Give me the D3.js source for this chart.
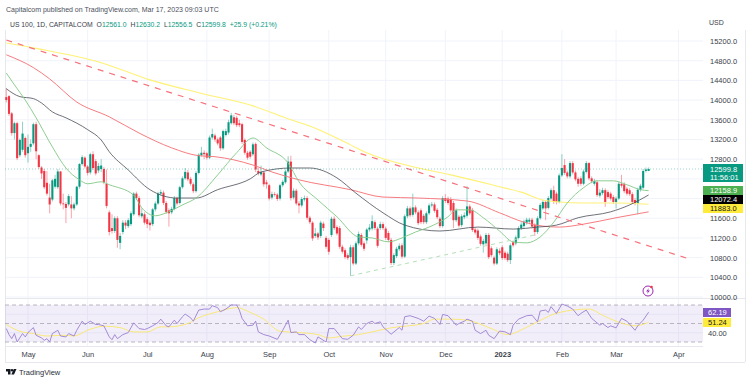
<!DOCTYPE html>
<html>
<head>
<meta charset="utf-8">
<script src="https://cdn.jsdelivr.net/npm/d3@7"></script>
<style>
  html, body { margin: 0; padding: 0; background: #fff; }
  svg { display: block; }
  text { font-family: "Liberation Sans", sans-serif; }
</style>
</head>
<body>
<div id="chart"></div>
<script>
// Daily candles, one value per trading day
const opens = [
  14060,14080,13730,13330,13530,12880,12990,13230,12920,13050,
  13120,13510,12880,12630,12560,12320,12020,11980,12240,12230,
  12550,11900,11890,11880,11880,11800,11880,12240,12700,12830,
  12650,12530,12900,12760,12570,12600,12600,12300,11720,11400,
  11340,11600,11100,11320,11510,11440,11480,11680,12100,12010,
  11640,11680,11580,11510,11480,11780,11900,12100,12120,11910,
  11760,11720,11790,12010,11910,12230,12410,12530,12400,12290,
  12150,12520,12880,12930,12920,12830,13240,13280,13200,13240,
  13020,13290,13340,13530,13650,13640,13530,13510,13190,12930,
  12950,12900,13110,12560,12490,12530,12330,12270,12020,12090,
  12080,12000,12270,12330,12550,12750,12020,12160,11900,11860,
  11980,12010,11610,11510,11240,11290,11240,11490,11200,11160,
  11260,11590,11420,11400,11020,10950,10850,10810,11010,10680,
  11090,11260,11090,11150,11370,11390,11520,11390,11400,11480,
  11390,11300,11160,10690,10830,10970,11050,10820,11640,11800,
  11670,11820,11720,11760,11650,11520,11700,11860,11880,11770,
  11590,11440,12010,12000,11990,11910,11560,11630,11460,11620,
  11650,11840,11770,11370,11350,11230,11070,11090,11260,10990,
  10800,10680,10940,11010,10900,10880,10750,11110,11090,11200,
  11400,11440,11510,11530,11570,11460,11320,11600,11800,11930,
  11810,12000,12170,12100,11930,12470,12680,12530,12450,12720,
  12530,12400,12410,12300,12540,12720,12410,12300,12330,12060,
  12110,12170,12130,12100,12030,11930,12000,12300,12290,12200,
  12170,12090,11970,11900,12180,12220,12560,12561];
const highs = [
  14240,14100,13760,13560,13560,13220,13560,13260,13300,13200,
  13540,13560,12900,12660,12600,12560,12300,12400,12480,12600,
  12560,12100,11930,12090,12050,11920,12260,12720,12880,12860,
  12680,12930,12960,12800,12720,12800,12640,12590,11760,11680,
  11640,11640,11300,11560,11560,11600,11740,12130,12140,12050,
  11800,11720,11620,11560,11810,11940,12140,12180,12160,11950,
  11800,11830,12050,12040,12260,12450,12620,12580,12440,12330,
  12560,12920,13050,12980,12950,13280,13420,13320,13240,13270,
  13400,13420,13600,13740,13700,13680,13600,13540,13220,12970,
  12980,13140,13140,12620,12670,12560,12380,12300,12140,12130,
  12110,12300,12380,12590,12860,12870,12210,12200,11950,12030,
  12060,12050,11650,11540,11400,11320,11550,11530,11240,11200,
  11630,11640,11460,11440,11060,10990,10890,11060,11050,11130,
  11330,11300,11130,11400,11480,11660,11560,11430,11530,11520,
  11430,11340,11200,10890,11020,11090,11090,11680,11850,11840,
  12100,11860,11760,11800,11690,11740,11900,11930,11920,11810,
  11630,12050,12090,12040,12030,11950,11800,11670,11680,11720,
  12250,11880,11810,11410,11390,11270,11180,11300,11300,11030,
  10840,11010,10990,11050,10940,10920,11090,11150,11250,11440,
  11520,11570,11610,11610,11610,11500,11640,11910,11970,11970,
  12050,12210,12260,12140,12510,12900,12800,12570,12760,12760,
  12570,12440,12450,12590,12760,12740,12450,12400,12370,12190,
  12220,12210,12170,12140,12070,12040,12340,12480,12330,12240,
  12210,12130,12010,12220,12300,12600,12630,12630.2];
const lows = [
  13950,13680,13280,13200,12780,12840,12950,12830,12730,12950,
  13080,12800,12600,12400,12190,12060,11700,11940,12200,12190,
  11860,11780,11500,11840,11600,11760,11850,12200,12670,12610,
  12470,12490,12580,12470,12520,12540,12290,11800,11250,11290,
  11300,11000,10970,11270,11380,11400,11440,11650,11970,11620,
  11600,11470,11400,11350,11440,11740,11870,12060,11870,11690,
  11430,11680,11760,11860,11880,12200,12380,12350,12260,12110,
  12120,12490,12850,12800,12790,12800,13200,13150,13080,12970,
  12990,13260,13300,13500,13490,13450,13450,13110,12890,12790,
  12810,12860,12540,12470,12450,12240,12200,11960,11980,12040,
  11950,11960,12230,12300,12520,11960,11980,11860,11700,11820,
  11940,11570,11480,11140,11200,11160,11200,11340,10980,10860,
  11220,11360,11250,10980,10880,10770,10750,10430,10640,10650,
  11050,11020,10930,11080,11330,11350,11360,11000,11360,11360,
  11160,11120,10650,10650,10790,10930,10780,10790,11600,11620,
  11630,11680,11460,11480,11480,11480,11660,11820,11710,11580,
  11400,11410,11910,11870,11720,11400,11520,11410,11420,11580,
  11610,11660,11320,11270,11160,11040,10900,11050,10770,10810,
  10640,10650,10850,10750,10750,10710,10670,11010,11050,11170,
  11360,11400,11470,11490,11390,11240,11280,11570,11770,11560,
  11780,11960,11890,11880,11900,12440,12480,12410,12410,12490,
  12350,12240,12260,12270,12510,12370,12310,12260,12030,12020,
  12070,11830,11990,11960,11890,11800,11970,12220,12110,12060,
  12050,11890,11860,11680,12140,12190,12530,12556.5];
const closes = [
  14000,13720,13330,13530,12820,13190,13320,12880,13050,13110,
  13510,12960,12640,12510,12230,12100,11880,12370,12400,12550,
  11900,11890,11810,12050,11800,11880,12240,12700,12840,12650,
  12520,12900,12620,12510,12660,12670,12330,11850,11320,11340,
  11600,11160,11240,11510,11450,11560,11700,12100,12010,11660,
  11700,11510,11480,11460,11780,11900,12100,12130,11910,11730,
  11700,11790,12010,11900,12230,12410,12540,12390,12300,12150,
  12520,12890,12930,12900,12830,13240,13310,13200,13120,13020,
  13370,13370,13550,13690,13530,13490,13490,13150,12930,12830,
  12850,13100,12590,12510,12540,12290,12290,12000,12090,12080,
  11990,12270,12340,12550,12750,12010,12160,11900,11860,11990,
  12010,11610,11520,11190,11290,11210,11510,11400,11020,10920,
  11590,11400,11290,11020,10920,10810,10790,11010,10680,11090,
  11280,11060,10980,11370,11410,11540,11400,11040,11480,11400,
  11200,11160,10690,10850,10980,11040,10820,11640,11800,11660,
  11820,11720,11500,11520,11520,11700,11860,11880,11750,11620,
  11440,12010,11950,11910,11760,11560,11760,11450,11640,11660,
  11840,11700,11360,11310,11200,11080,11140,11260,10810,10850,
  10680,10970,10890,10790,10790,10750,11050,11050,11210,11400,
  11470,11530,11570,11570,11430,11320,11600,11870,11930,11800,
  12010,12170,11930,11930,12470,12620,12520,12450,12720,12530,
  12390,12300,12300,12550,12720,12410,12350,12360,12070,12120,
  12170,11930,12030,12000,11930,12000,12300,12260,12150,12100,
  12090,11930,11900,12180,12260,12560,12590,12599.8];

// Moving averages: bar index and price read at the bends of each line
const ma20Index = [0,3,7,11,17,22,27,30,35,38,47,50,55,59,65,70,78,85,91,96,104,108,115,122,130,135,141,146,151,156,163,166,171,176,182,187,192,197,202,207,213,218,224,229,234,237];
const ma20 = [14550,14310,14000,13640,13050,12620,12380,12300,12340,12280,12070,11810,11650,11710,11870,12010,12480,12930,13230,13030,12720,12340,11970,11630,11220,11200,11120,11200,11320,11420,11630,11770,11770,11610,11340,11120,11100,11220,11520,11910,12220,12360,12360,12280,12180,12158.9];
const ma50Index = [0,5,10,13,17,22,30,35,38,45,53,63,70,78,90,94,105,112,122,129,139,147,160,174,187,196,203,211,223,230,237];
const ma50 = [14230,14070,14030,13940,13760,13640,13400,13190,12950,12580,12180,12010,12010,12180,12400,12540,12620,12620,12420,12110,11710,11460,11340,11420,11380,11420,11460,11610,11730,11870,12072.4];
const ma100Index = [0,10,16,26,38,49,61,71,77,91,98,108,127,139,152,170,182,191,198,204,213,225,237];
const ma100 = [14920,14660,14430,13960,13660,13330,13030,12870,12850,12680,12540,12380,12180,12030,12010,11950,11710,11520,11440,11420,11480,11610,11730];
const ma200Index = [0,12,35,53,71,90,105,114,127,133,152,164,182,190,198,204,213,225,237];
const ma200 = [15160,15040,14760,14410,14150,13900,13600,13430,13090,12930,12620,12480,12240,12130,11970,11930,11910,11910,11883];

// The two drawn trend lines
const redTrendIndex = [0, 251];
const redTrend = [15220, 10790];
const greenTrendIndex = [127, 195];
const greenTrend = [10430, 11260];

// RSI pane
const rsiIndex = [0,1,2,3,4,6,7,8,10,11,13,14,15,16,17,19,20,22,23,25,26,28,29,31,33,34,36,38,39,40,41,43,45,47,49,51,52,54,56,57,59,60,62,63,65,66,68,69,71,73,75,76,78,79,81,83,85,86,87,89,91,92,93,95,97,100,102,104,105,107,108,110,112,114,115,118,119,121,123,124,126,128,130,131,133,135,136,138,139,142,145,146,147,149,152,154,156,158,160,161,163,166,167,169,170,172,173,175,177,178,180,182,184,186,187,189,192,194,196,197,199,200,201,203,205,207,209,211,212,214,216,219,220,222,223,225,227,229,232,233,235,237];
const rsi = [44.5,38,33.6,39.1,30,39.1,35.5,40.2,45.6,37.3,34.4,31.8,33.6,30,39.1,42.7,36.5,35.5,39.1,36.5,42.7,52.5,48.9,52.5,48.9,48.9,47.5,35.5,32.5,38,33.6,38,40.2,50.7,44.5,43.5,44.5,47.5,51,54.7,47.5,46.4,53.6,50,57.3,60.2,56.2,52.5,64.5,65.6,65.6,69.3,67.1,62.7,65.6,70,70,64.5,55.5,47.5,48.2,52.5,40.9,38,36.5,32.9,42.7,53.6,40.2,40.9,38,38,32.5,28.9,35.5,30,44.5,44.5,37.3,33.6,32.9,37.3,46.4,43.5,50,52.5,50,51.8,46.4,38.4,45.6,42.7,57.3,58.4,55.5,52.5,58,55.5,48.9,59.8,58.4,48.2,50,52.5,54.7,52.5,42.7,39.1,42.7,37.3,33.6,41.8,41,38,48.2,54.7,58.4,59,51.8,63.5,64.5,62,68.2,60.9,71,68.9,65.6,58.4,60.9,64.5,55.5,48.2,50,45.6,47.5,45.3,55.5,52.5,42.7,47.5,53.6,62.19];
const rsiMaIndex = [0,5,10,15,21,25,30,36,42,47,52,57,60,67,71,78,85,90,95,101,108,115,119,124,130,136,142,154,158,164,170,179,185,191,196,201,209,215,220,225,232,237];
const rsiMa = [48.9,41.6,39.1,36.5,37.3,36.5,42.7,47.1,45.6,40.9,40.9,46.4,46.4,50,56.2,62.7,67.1,62,54.7,41.6,40.2,38,34.4,36.2,38,41.6,45.3,50,54.7,54.7,53.6,44.5,38,44.5,51.8,59,64.5,65.6,59,52.5,47.5,51.24];

// Axis labels
const priceTicks = [15200,14800,14400,14000,13600,13200,12800,12400,12000,11600,11200,10800,10400,10000];
const hiddenPriceLabels = [12400, 12000];
const monthIndex = [8,30,52,74,97,119,140,162,183,205,225,248];
const monthLabels = ["May","Jun","Jul","Aug","Sep","Oct","Nov","Dec","2023","Feb","Mar","Apr"];
const rsiLevels = [70, 50, 30];

const width = 750, height = 382;
const upColor = "#089981", downColor = "#f23645";
const lineMa20 = "#81c784", lineMa50 = "#4a4d57", lineMa100 = "#f77c80", lineMa200 = "#fff176";
const textColor = "#3a3e4a", gridColor = "#f0f3fa", purple = "#7e57c2";
const labelSize = 7.5;

const svg = d3.select("#chart").append("svg")
    .attr("width", width)
    .attr("height", height);

const x = d3.scaleLinear().domain([0, 237]).range([6.3, 648.6]);
const y = d3.scaleLinear().domain([10000, 15200]).range([297, 41]);
const yRsi = d3.scaleLinear().domain([30, 70]).range([342, 305]);

const left = 5, axisLeft = 703, right = 745, bottom = 362;

// Grid first so everything sits on top of it
const grid = svg.append("g").attr("stroke", gridColor).attr("stroke-width", 1);
grid.selectAll("line.h").data(priceTicks).enter().append("line")
    .attr("class", "h")
    .attr("x1", left).attr("x2", axisLeft)
    .attr("y1", d => y(d)).attr("y2", d => y(d));
grid.selectAll("line.v").data(monthIndex).enter().append("line")
    .attr("class", "v")
    .attr("x1", d => x(d)).attr("x2", d => x(d))
    .attr("y1", 30).attr("y2", 346);
grid.selectAll("line.r").data([40, 60]).enter().append("line")
    .attr("class", "r")
    .attr("x1", left).attr("x2", axisLeft)
    .attr("y1", d => yRsi(d)).attr("y2", d => yRsi(d));

// Frame of the chart and the separators of the panes
const frame = svg.append("g").attr("stroke", "#e6e8ee").attr("stroke-width", 1);
frame.append("line").attr("x1", left + 0.5).attr("x2", left + 0.5).attr("y1", 30).attr("y2", bottom);
frame.append("line").attr("x1", right + 0.5).attr("x2", right + 0.5).attr("y1", 30).attr("y2", bottom);
frame.append("line").attr("x1", left).attr("x2", right).attr("y1", bottom + 0.5).attr("y2", bottom + 0.5);
frame.append("line").attr("x1", left).attr("x2", right).attr("y1", 298.5).attr("y2", 298.5);
frame.append("line").attr("x1", left).attr("x2", axisLeft).attr("y1", 346.5).attr("y2", 346.5);

// Candles, wicks under the bodies
const candles = d3.range(closes.length);
const candleColor = i => closes[i] >= opens[i] ? upColor : downColor;
svg.append("g").selectAll("line").data(candles).enter().append("line")
    .attr("x1", i => x(i)).attr("x2", i => x(i))
    .attr("y1", i => y(highs[i])).attr("y2", i => y(lows[i]))
    .attr("stroke", candleColor)
    .attr("stroke-opacity", 0.45)
    .attr("stroke-width", 1);
svg.append("g").selectAll("rect").data(candles).enter().append("rect")
    .attr("x", i => x(i) - 1.05)
    .attr("width", 2.1)
    .attr("y", i => y(Math.max(opens[i], closes[i])))
    .attr("height", i => Math.max(0.8, Math.abs(y(opens[i]) - y(closes[i]))))
    .attr("fill", candleColor);

// Overlay lines
function drawLine(indexes, values, yScale, color, w, dash, curve) {
    const line = d3.line()
        .x(d => x(d[0]))
        .y(d => yScale(d[1]))
        .curve(curve || d3.curveLinear);
    svg.append("path")
        .datum(indexes.map((d, i) => [d, values[i]]))
        .attr("d", line)
        .attr("fill", "none")
        .attr("stroke", color)
        .attr("stroke-width", w)
        .attr("stroke-dasharray", dash || null);
}
drawLine(ma200Index, ma200, y, lineMa200, 1.1, null, d3.curveMonotoneX);
drawLine(ma100Index, ma100, y, lineMa100, 1, null, d3.curveMonotoneX);
drawLine(ma50Index, ma50, y, lineMa50, 0.8, null, d3.curveMonotoneX);
drawLine(ma20Index, ma20, y, lineMa20, 0.9, null, d3.curveMonotoneX);
drawLine(redTrendIndex, redTrend, y, "#f7707a", 1.2, "6 6");
drawLine(greenTrendIndex, greenTrend, y, "#b5dfb7", 1, "4 4");

// Last price dotted line
svg.append("line")
    .attr("x1", left).attr("x2", axisLeft)
    .attr("y1", y(closes[closes.length - 1])).attr("y2", y(closes[closes.length - 1]))
    .attr("stroke", upColor)
    .attr("stroke-opacity", 0.4)
    .attr("stroke-dasharray", "1 2");

// RSI pane
svg.append("rect")
    .attr("x", left).attr("width", axisLeft - left)
    .attr("y", yRsi(70)).attr("height", yRsi(30) - yRsi(70))
    .attr("fill", purple).attr("fill-opacity", 0.1);
svg.append("g").selectAll("line").data(rsiLevels).enter().append("line")
    .attr("x1", left).attr("x2", axisLeft)
    .attr("y1", d => yRsi(d)).attr("y2", d => yRsi(d))
    .attr("stroke", "#a8a4b4")
    .attr("stroke-dasharray", "4 3")
    .attr("stroke-width", 0.8);
drawLine(rsiMaIndex, rsiMa, yRsi, "#fbe66a", 0.9, null, d3.curveMonotoneX);
drawLine(rsiIndex, rsi, yRsi, "#9a7fd1", 0.9);

// Price axis
const priceAxis = svg.append("g")
    .attr("transform", `translate(${axisLeft + 7},0)`)
    .call(d3.axisRight(y)
        .tickValues(priceTicks.filter(d => !hiddenPriceLabels.includes(d)))
        .tickSize(0)
        .tickPadding(0)
        .tickFormat(d3.format(".1f")));
priceAxis.select(".domain").remove();
priceAxis.selectAll("text")
    .style("font-family", '"Liberation Sans", sans-serif')
    .style("font-size", labelSize + "px")
    .attr("fill", textColor);

// Month axis
const monthAxis = svg.append("g")
    .attr("transform", "translate(0,347)")
    .call(d3.axisBottom(x)
        .tickValues(monthIndex)
        .tickSize(0)
        .tickPadding(5)
        .tickFormat((d, i) => monthLabels[i]));
monthAxis.select(".domain").remove();
monthAxis.selectAll("text")
    .style("font-family", '"Liberation Sans", sans-serif')
    .style("font-size", labelSize + "px")
    .style("font-weight", (d, i) => monthLabels[i] === "2023" ? "bold" : "normal")
    .attr("fill", textColor);

// Value tags on the price axis
const tags = [
    {top: 164, h: 18, w: 40, fill: upColor, color: "#fff", lines: ["12599.8", "11:56:01"]},
    {top: 186, h: 9, w: 40, fill: "#4caf50", color: "#fff", lines: ["12158.9"]},
    {top: 195, h: 9, w: 40, fill: "#000", color: "#fff", lines: ["12072.4"]},
    {top: 204, h: 9, w: 40, fill: "#ffeb3b", color: "#131722", lines: ["11883.0"]},
    {top: 308, h: 9, w: 28, fill: purple, color: "#fff", lines: ["62.19"]},
    {top: 318, h: 9, w: 28, fill: "#ffeb3b", color: "#131722", lines: ["51.24"]}
];
tags.forEach(t => {
    svg.append("rect")
        .attr("x", axisLeft).attr("y", t.top)
        .attr("width", t.w).attr("height", t.h)
        .attr("fill", t.fill);
    t.lines.forEach((s, i) => {
        svg.append("text")
            .attr("x", axisLeft + (t.w > 30 ? 7 : 5))
            .attr("y", t.top + (t.h > 10 ? 7.5 : 7.2) + i * 8)
            .attr("font-size", labelSize)
            .attr("fill", t.color)
            .text(s);
    });
});
svg.append("text").attr("x", axisLeft + 5).attr("y", 335.7).attr("font-size", labelSize).attr("fill", textColor).text("40.00");

// Header text
svg.append("text").attr("x", 6).attr("y", 11.5).attr("font-size", 7).attr("fill", "#4a4f5c")
    .text("Capitalcom published on TradingView.com, Mar 17, 2023 09:03 UTC");
svg.append("text").attr("x", 709).attr("y", 25).attr("font-size", 7).attr("fill", textColor).text("USD");

const head = svg.append("text").attr("x", 10).attr("y", 26.5).attr("font-size", 6.8).attr("fill", textColor);
head.append("tspan").text("US 100, 1D, CAPITALCOM");
[["O", "12561.0"], ["H", "12630.2"], ["L", "12556.5"], ["C", "12599.8"]].forEach(d => {
    head.append("tspan").attr("dx", 4).text(d[0]);
    head.append("tspan").attr("fill", upColor).text(d[1]);
});
head.append("tspan").attr("dx", 4).attr("fill", upColor).text("+25.9 (+0.21%)");

// Small lightning marker
const flash = svg.append("g").attr("transform", "translate(648,291)");
flash.append("circle").attr("r", 5).attr("fill", "#fff").attr("stroke", "#9c27b0").attr("stroke-width", 1);
flash.append("path").attr("d", "M1,-3 L-2,0.5 L0,0.5 L-1,3 L2,-0.5 L0,-0.5 Z").attr("fill", "#9c27b0");
flash.append("circle").attr("cx", 3.5).attr("cy", -4).attr("r", 1.3).attr("fill", "#f23645");

// TradingView mark
const mark = svg.append("g").attr("transform", "translate(6,369)").attr("fill", "#131722");
mark.append("path").attr("d", "M0,0 H4.5 V5.5 H2 V2.4 H0 Z");
mark.append("circle").attr("cx", 6).attr("cy", 1.2).attr("r", 1.2);
mark.append("path").attr("d", "M7.8,0 H10.5 L8,5.5 H5.3 Z");
svg.append("text").attr("x", 19).attr("y", 375).attr("font-size", 7.5).attr("fill", "#2a2e39").text("TradingView");
</script>
</body>
</html>
